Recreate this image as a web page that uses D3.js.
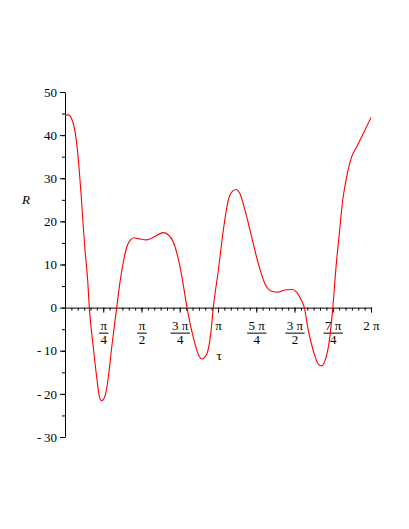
<!DOCTYPE html>
<html lang="en">
<head>
  <meta charset="UTF-8">
  <title>R vs tau</title>
  <style>
    body {
      margin: 0;
      background: #fff;
    }
    svg text {
      font-family: "Liberation Serif", "Times New Roman", serif;
      font-size: 13px;
      fill: #000;
    }
    .domain, .tick line {
      stroke: #000;
      stroke-width: 1;
    }
    .curve {
      fill: none;
      stroke: #ff0000;
      stroke-width: 1.1;
    }
  </style>
  <script src="https://cdn.jsdelivr.net/npm/d3@7"></script>
</head>
<body>
  <div id="chart"></div>
  <script>
/* global d3 */

// curve samples (tau in radians, R)
var tau = [0, 0.068, 0.170, 0.240, 0.287, 0.329, 0.376, 0.411, 0.466, 0.499,
  0.581, 0.651, 0.704, 0.754, 0.821, 0.889, 0.959, 1.062, 1.129, 1.197,
  1.267, 1.335, 1.417, 1.505, 1.678, 1.813, 2.018, 2.121, 2.224, 2.326,
  2.396, 2.505, 2.634, 2.737, 2.807, 2.910, 2.992, 3.045, 3.148, 3.250,
  3.353, 3.423, 3.511, 3.593, 3.696, 3.834, 3.969, 4.107, 4.244, 4.380,
  4.517, 4.655, 4.757, 4.840, 4.914, 4.996, 5.098, 5.201, 5.271, 5.339,
  5.427, 5.497, 5.565, 5.632, 5.702, 5.784, 5.887, 5.990, 6.125, 6.283];
var R = [44.6, 44.7, 42.7, 38.1, 32.6, 26.5, 18.7, 13.3, 6.3, 0,
  -9.2, -16.2, -20.5, -21.6, -20.5, -16.2, -9.2, 0, 5.9, 10.5,
  14.0, 15.6, 16.2, 16.0, 15.7, 16.3, 17.4, 16.9, 15.2, 11.3,
  7.4, 0, -6.9, -10.8, -11.9, -10.8, -6.1, 0, 8.6, 17.9,
  24.9, 26.8, 27.4, 26.4, 22.6, 16.3, 10.2, 5.5, 3.8, 3.6,
  4.1, 4.2, 3.6, 2.0, 0, -5.3, -10.0, -13.1, -13.5, -12.3,
  -7.7, -0.3, 9.4, 17.1, 24.9, 30.3, 35.0, 37.3, 40.4, 44.1];

// x tick labels as fractions of pi
var xTickMult = [1 / 4, 1 / 2, 3 / 4, 1, 5 / 4, 3 / 2, 7 / 4, 2];
var xTickNum = ["π", "π", "3 π", "π", "5 π", "3 π", "7 π", "2 π"];
var xTickDen = ["4", "2", "4", "", "4", "2", "4", ""];
var yTicks = [-30, -20, -10, 0, 10, 20, 30, 40, 50];

var width = 409, height = 529;
var margin = {left: 65, top: 92, right: 38, bottom: 92};

var svg = d3.select("#chart")
  .append("svg")
  .attr("width", width)
  .attr("height", height);

var x = d3.scaleLinear()
  .domain([0, 2 * Math.PI])
  .range([margin.left, width - margin.right]);
var y = d3.scaleLinear()
  .domain([-30, 50])
  .range([height - margin.bottom, margin.top]);

// y axis: minor then major
svg.append("g")
  .attr("transform", "translate(" + x(0) + ",0)")
  .call(d3.axisLeft(y)
    .tickValues(d3.range(-30, 51, 5))
    .tickSize(3)
    .tickFormat(""))
  .select(".domain").remove();

svg.append("g")
  .attr("class", "axis--y")
  .attr("transform", "translate(" + x(0) + ",0)")
  .call(d3.axisLeft(y)
    .tickValues(yTicks)
    .tickSizeInner(5)
    .tickSizeOuter(0)
    .tickPadding(3)
    .tickFormat(function (d) { return d < 0 ? "-" + "\u2009" + (-d) : d; }));

// x axis: minor then major
svg.append("g")
  .attr("transform", "translate(0," + y(0) + ")")
  .call(d3.axisBottom(x)
    .tickValues(d3.range(0, 49).map(function (i) { return i * Math.PI / 24; }))
    .tickSize(3)
    .tickFormat(""))
  .select(".domain").remove();

var gx = svg.append("g")
  .attr("class", "axis--x")
  .attr("transform", "translate(0," + y(0) + ")")
  .call(d3.axisBottom(x)
    .tickValues(xTickMult.map(function (m) { return m * Math.PI; }))
    .tickSizeInner(5)
    .tickSizeOuter(0)
    .tickFormat(""));

gx.selectAll(".tick text").remove();
gx.selectAll(".tick").each(function (d, i) {
  var t = d3.select(this);
  var num = t.append("text")
    .attr("text-anchor", "middle")
    .attr("y", 22)
    .text(xTickNum[i]);
  if (xTickDen[i]) {
    var w = num.node().getComputedTextLength() + 3;
    t.append("line")
      .attr("x1", -w / 2)
      .attr("x2", w / 2)
      .attr("y1", 25.5)
      .attr("y2", 25.5)
      .attr("stroke", "#000");
    t.append("text")
      .attr("text-anchor", "middle")
      .attr("y", 36)
      .text(xTickDen[i]);
  }
});

// axis titles
svg.append("text")
  .attr("x", 26)
  .attr("y", 204)
  .attr("text-anchor", "middle")
  .style("font-style", "italic")
  .text("R");

svg.append("text")
  .attr("x", 219)
  .attr("y", 360)
  .attr("text-anchor", "middle")
  .text("τ");

// the curve
var line = d3.line()
  .x(function (d, i) { return x(tau[i]); })
  .y(function (d) { return y(d); })
  .curve(d3.curveMonotoneX);

svg.append("path")
  .attr("class", "curve")
  .attr("d", line(R));
  </script>
</body>
</html>
